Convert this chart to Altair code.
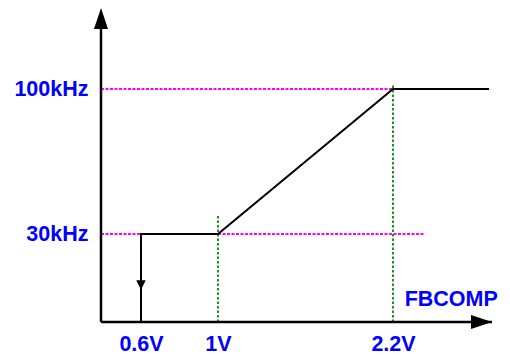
import altair as alt
import pandas as pd

# ---- data ----
volt_ticks = [0.6, 1.0, 2.2]          # x tick labels (V)
freq_ticks = [30, 100]                # y tick labels (kHz)
curve_v = [0.6, 0.6, 1.0, 2.2, 2.86]  # transfer curve, volts
curve_f = [0, 30, 30, 100, 100]       # transfer curve, kHz
hguide_f = [30, 100]                  # magenta guides
hguide_v_end = [2.42, 2.42]
vguide_v = [1.0, 2.2]                 # green guides
vguide_f_top = [39, 102]
x_end = 2.88
y_end = 139
arrow_down_v = [0.6]
arrow_down_f = [11]
label_v = [2.60]
label_f = [7.5]
label_txt = ["FBCOMP"]

FONT = "Liberation Sans"
BLUE = "#0000ff"
FS = 21.5

xs = alt.Scale(domain=[0, 0.6, 1.0, 2.2, x_end], range=[0, 40, 117, 292, 391], zero=False, nice=False)
ys = alt.Scale(domain=[0, 30, 100, y_end], range=[314, 226, 81, 0], zero=False, nice=False)

curve = pd.DataFrame({"v": curve_v, "f": curve_f, "o": list(range(len(curve_v)))})
hg = pd.DataFrame({"f": hguide_f, "v0": [0, 0], "v1": hguide_v_end})
vg = pd.DataFrame({"v": vguide_v, "f0": [0, 0], "f1": vguide_f_top})
axes_df = pd.DataFrame({"v0": [0, 0], "v1": [0, x_end], "f0": [0, 0], "f1": [y_end - 8, 0]})

xaxis = alt.Axis(values=volt_ticks, labelExpr="datum.value + 'V'", ticks=False, tickSize=0, domain=False,
                 grid=False, title=None, labelFont=FONT, labelFontSize=FS, labelFontWeight="bold",
                 labelColor=BLUE, labelPadding=11)
yaxis = alt.Axis(values=freq_ticks, labelExpr="datum.value + 'kHz'", ticks=False, tickSize=0, domain=False,
                 grid=False, title=None, labelFont=FONT, labelFontSize=FS, labelFontWeight="bold",
                 labelColor=BLUE, labelPadding=13)

base_axes = alt.Chart(curve).mark_line(color="black", strokeWidth=2).encode(
    x=alt.X("v:Q", scale=xs, axis=xaxis),
    y=alt.Y("f:Q", scale=ys, axis=yaxis),
    order="o:Q",
)

magenta = alt.Chart(hg).mark_rule(color="#ff00ff", strokeWidth=2, strokeDash=[3, 1.5]).encode(
    x=alt.X("v0:Q", scale=xs), x2="v1:Q", y=alt.Y("f:Q", scale=ys)
)
green = alt.Chart(vg).mark_rule(color="#1a961a", strokeWidth=2, strokeDash=[2.5, 2]).encode(
    x=alt.X("v:Q", scale=xs), y=alt.Y("f0:Q", scale=ys), y2="f1:Q"
)
axis_lines = alt.Chart(axes_df).mark_rule(color="black", strokeWidth=2.5).encode(
    x=alt.X("v0:Q", scale=xs), x2="v1:Q", y=alt.Y("f0:Q", scale=ys), y2="f1:Q"
)
y_arrow = alt.Chart(pd.DataFrame({"v": [0], "f": [y_end]})).mark_point(
    shape="M0,0L0.667,2L-0.667,2Z", size=441, filled=True, color="black", opacity=1
).encode(x=alt.X("v:Q", scale=xs), y=alt.Y("f:Q", scale=ys))
x_arrow = alt.Chart(pd.DataFrame({"v": [x_end], "f": [0]})).mark_point(
    shape="M0,0L-2,-0.667L-2,0.667Z", size=441, filled=True, color="black", opacity=1
).encode(x=alt.X("v:Q", scale=xs), y=alt.Y("f:Q", scale=ys))
d_arrow = alt.Chart(pd.DataFrame({"v": arrow_down_v, "f": arrow_down_f})).mark_point(
    shape="M0,0L-0.5,-1L0.5,-1Z", size=361, filled=True, color="black", opacity=1
).encode(x=alt.X("v:Q", scale=xs), y=alt.Y("f:Q", scale=ys))
label = alt.Chart(pd.DataFrame({"v": label_v, "f": label_f, "t": label_txt})).mark_text(
    font=FONT, fontSize=FS, fontWeight="bold", color=BLUE, align="center", baseline="middle"
).encode(x=alt.X("v:Q", scale=xs), y=alt.Y("f:Q", scale=ys), text="t:N")

chart = alt.layer(magenta, green, base_axes, axis_lines, y_arrow, x_arrow, d_arrow, label).properties(
    width=391, height=314,
    padding={"left": 93, "top": 0, "right": 10, "bottom": 34},
    autosize=alt.AutoSizeParams(type="none"),
    background="white",
).configure_view(stroke=None)

chart.save("out.html", embed_options={"renderer": "svg", "actions": False})
